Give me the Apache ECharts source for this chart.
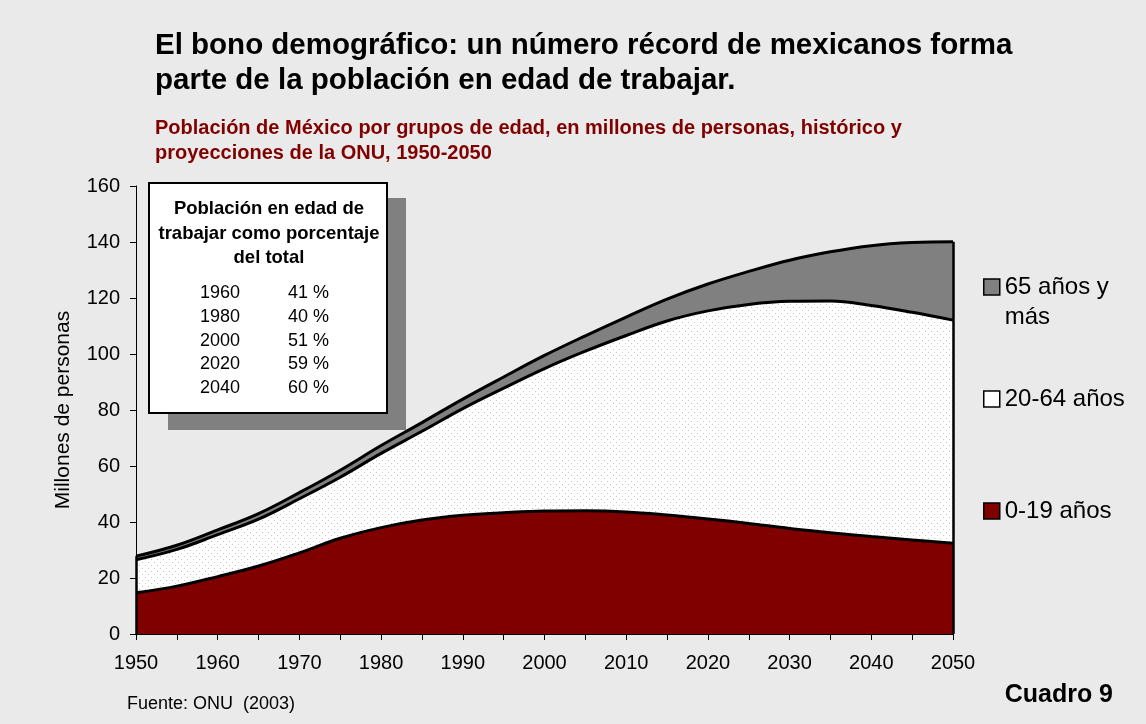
<!DOCTYPE html>
<html>
<head>
<meta charset="utf-8">
<script src="https://cdn.jsdelivr.net/npm/echarts@6/dist/echarts.min.js"></script>
<style>
  html, body { margin: 0; padding: 0; background: #eaeaea; }
  #chart { width: 1146px; height: 724px; }
</style>
</head>
<body>
<div id="chart"></div>
<script>
// años cada 5, 1950-2050
const years = ['1950', '1955', '1960', '1965', '1970', '1975', '1980', '1985', '1990', '1995', '2000',
  '2005', '2010', '2015', '2020', '2025', '2030', '2035', '2040', '2045', '2050'];

// millones de personas
const age0to19 = [14.7, 17.1, 20.5, 24.3, 29.0, 34.2, 38.0, 40.7, 42.4, 43.3, 43.9,
  44.0, 43.6, 42.5, 41.1, 39.5, 37.7, 36.2, 34.8, 33.6, 32.4];
const age20to64 = [11.8, 13.1, 15.0, 16.7, 19.3, 21.8, 26.5, 31.7, 38.1, 44.5, 50.9,
  57.0, 63.0, 69.3, 74.3, 78.2, 81.1, 82.7, 82.5, 81.3, 79.7];
const age65plus = [1.3, 1.5, 1.7, 2.0, 2.2, 2.5, 2.8, 3.1, 3.4, 4.0, 4.7,
  5.5, 6.6, 7.8, 9.6, 11.8, 14.7, 17.6, 21.4, 24.9, 28.0];

const yTicks = [0, 160, 20]; // min, max, interval

// recuadro
const insetTitle = ['Población en edad de', 'trabajar como porcentaje', 'del total'];
const insetYears = ['1960', '1980', '2000', '2020', '2040'];
const insetPct = ['41 %', '40 %', '51 %', '59 %', '60 %'];

const FONT = '"Liberation Sans", Arial, sans-serif';
const DARK_RED = '#800000';
const GRAY = '#808080';

const totals = years.map((_, i) => +(age0to19[i] + age20to64[i] + age65plus[i]).toFixed(1));

function dotPattern() {
  const c = document.createElement('canvas');
  c.width = 6;
  c.height = 6;
  const ctx = c.getContext('2d');
  ctx.fillStyle = '#ffffff';
  ctx.fillRect(0, 0, 6, 6);
  ctx.fillStyle = '#c6c6c6';
  ctx.fillRect(1, 1, 1, 1);
  ctx.fillRect(4, 4, 1, 1);
  return c;
}

function legendFor(name, top, color, label) {
  return {
    data: [name],
    left: 983,
    top,
    padding: 0,
    icon: 'rect',
    itemWidth: 16,
    itemHeight: 16,
    selectedMode: false,
    formatter: () => label,
    itemStyle: { color, borderColor: '#000', borderWidth: 1.5 },
    textStyle: { color: '#000', fontSize: 24, fontFamily: FONT, lineHeight: 30 }
  };
}

const chart = echarts.init(document.getElementById('chart'));

const insetGraphics = [
  { type: 'rect', shape: { x: 168, y: 198, width: 238, height: 232 }, style: { fill: GRAY }, silent: true },
  { type: 'rect', shape: { x: 149, y: 183, width: 238, height: 230 }, style: { fill: '#fff', stroke: '#000', lineWidth: 2 }, silent: true }
];
insetTitle.forEach((t, i) => {
  insetGraphics.push({
    type: 'text', silent: true,
    style: { x: 269, y: 209 + i * 24.5, text: t, align: 'center', verticalAlign: 'middle', font: 'bold 18.5px ' + FONT, fill: '#000' }
  });
});
insetYears.forEach((y, i) => {
  insetGraphics.push({
    type: 'text', silent: true,
    style: { x: 200, y: 293 + i * 23.8, text: y, align: 'left', verticalAlign: 'middle', font: '18px ' + FONT, fill: '#000' }
  });
  insetGraphics.push({
    type: 'text', silent: true,
    style: { x: 288, y: 293 + i * 23.8, text: insetPct[i], align: 'left', verticalAlign: 'middle', font: '18px ' + FONT, fill: '#000' }
  });
});

const option = {
  backgroundColor: '#eaeaea',
  animation: false,
  title: [
    {
      text: 'El bono demográfico: un número récord de mexicanos forma\nparte de la población en edad de trabajar.',
      left: 155,
      top: 28,
      padding: 0,
      textStyle: { color: '#000', fontSize: 29.5, fontWeight: 'bold', fontFamily: FONT, lineHeight: 35 }
    },
    {
      text: 'Población de México por grupos de edad, en millones de personas, histórico y\nproyecciones de la ONU, 1950-2050',
      left: 155,
      top: 116,
      padding: 0,
      textStyle: { color: DARK_RED, fontSize: 20, fontWeight: 'bold', fontFamily: FONT, lineHeight: 25 }
    }
  ],
  legend: [
    legendFor('65 años y más', 242, GRAY, '\n65 años y\nmás'),
    legendFor('20-64 años', 384, '#ffffff', '20-64 años'),
    legendFor('0-19 años', 496, DARK_RED, '0-19 años')
  ],
  grid: { left: 136, right: 193, top: 186, bottom: 90 },
  xAxis: {
    type: 'category',
    data: years,
    boundaryGap: false,
    axisLine: { lineStyle: { color: '#000', width: 1 } },
    axisTick: { show: true, interval: 0, length: 6, lineStyle: { color: '#000' } },
    axisLabel: { interval: 1, color: '#000', fontSize: 20, fontFamily: FONT, margin: 19 },
    splitLine: { show: false }
  },
  yAxis: {
    type: 'value',
    min: yTicks[0],
    max: yTicks[1],
    interval: yTicks[2],
    name: 'Millones de personas',
    nameLocation: 'middle',
    nameGap: 62,
    nameTextStyle: { color: '#000', fontSize: 21, fontFamily: FONT },
    axisLine: { show: true, lineStyle: { color: '#000', width: 1 } },
    axisTick: { show: true, length: 6, lineStyle: { color: '#000' } },
    axisLabel: { color: '#000', fontSize: 20, fontFamily: FONT, margin: 16 },
    splitLine: { show: false }
  },
  series: [
    {
      name: '0-19 años',
      type: 'line',
      stack: 'pob',
      data: age0to19,
      smooth: 0.4,
      symbol: 'none',
      z: 4,
      itemStyle: { color: DARK_RED },
      lineStyle: { color: '#000', width: 3 },
      areaStyle: { color: DARK_RED, opacity: 1 },
      markLine: {
        silent: true,
        symbol: 'none',
        animation: false,
        label: { show: false },
        lineStyle: { color: '#000', width: 2.5, type: 'solid' },
        data: [
          [{ coord: [years[0], 0] }, { coord: [years[0], totals[0]] }],
          [{ coord: [years[years.length - 1], 0] }, { coord: [years[years.length - 1], totals[totals.length - 1]] }]
        ]
      }
    },
    {
      name: '20-64 años',
      type: 'line',
      stack: 'pob',
      data: age20to64,
      smooth: 0.4,
      symbol: 'none',
      z: 3,
      itemStyle: { color: '#ffffff' },
      lineStyle: { color: '#000', width: 3 },
      areaStyle: { color: { image: dotPattern(), repeat: 'repeat' }, opacity: 1 }
    },
    {
      name: '65 años y más',
      type: 'line',
      stack: 'pob',
      data: age65plus,
      smooth: 0.4,
      symbol: 'none',
      z: 2,
      itemStyle: { color: GRAY },
      lineStyle: { color: '#000', width: 3 },
      areaStyle: { color: GRAY, opacity: 1 }
    }
  ],
  graphic: insetGraphics.concat([
    {
      type: 'text', silent: true,
      style: { x: 127, y: 704, text: 'Fuente: ONU  (2003)', align: 'left', verticalAlign: 'middle', font: '18px ' + FONT, fill: '#000' }
    },
    {
      type: 'text', silent: true,
      style: { x: 1113, y: 695, text: 'Cuadro 9', align: 'right', verticalAlign: 'middle', font: 'bold 25px ' + FONT, fill: '#000' }
    }
  ])
};

chart.setOption(option);
</script>
</body>
</html>
